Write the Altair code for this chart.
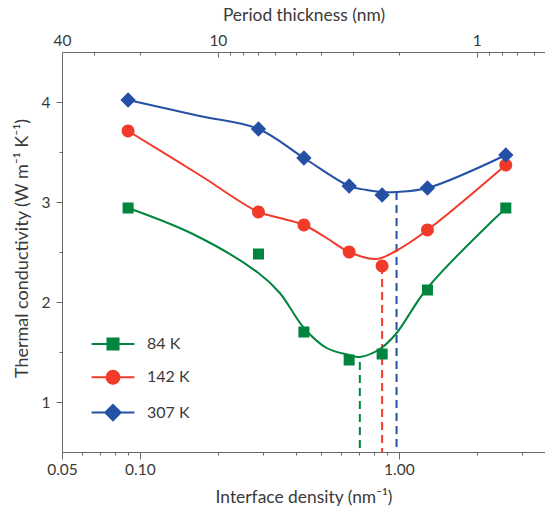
import altair as alt
import pandas as pd

# ---------------- data ----------------
series = ["84 K", "142 K", "307 K"]
colors = ["#00853E", "#F23A2B", "#2450A5"]

density = [0.09, 0.287, 0.43, 0.643, 0.862, 1.29, 2.59]
k84 = [2.94, 2.48, 1.70, 1.42, 1.48, 2.12, 2.94]
k142 = [3.71, 2.90, 2.77, 2.50, 2.36, 2.72, 3.37]
k307 = [4.02, 3.73, 3.44, 3.16, 3.07, 3.14, 3.47]

# smooth guide curves
fit84_x = [0.09, 0.16, 0.287, 0.347, 0.43, 0.526, 0.643, 0.707, 0.845, 0.974, 1.29, 2.59]
fit84_y = [2.94, 2.68, 2.29, 2.09, 1.74, 1.54, 1.47, 1.45, 1.53, 1.68, 2.14, 2.94]
fit142_x = [0.09, 0.17, 0.287, 0.347, 0.43, 0.526, 0.643, 0.82, 0.974, 1.29, 2.59]
fit142_y = [3.71, 3.27, 2.90, 2.84, 2.77, 2.64, 2.50, 2.43, 2.51, 2.72, 3.37]
fit307_x = [0.09, 0.17, 0.287, 0.43, 0.643, 0.75, 0.862, 0.974, 1.29, 2.59]
fit307_y = [4.02, 3.86, 3.73, 3.44, 3.16, 3.12, 3.10, 3.10, 3.14, 3.47]

# dashed markers of the minima
dash_x = [0.707, 0.862, 0.98]
dash_top = [1.40, 2.36, 3.10]
dash_bottom = [0.5, 0.5, 0.5]

# axis ticks
bottom_major = [0.05, 0.1, 1.0]
bottom_minor = [0.06, 0.07, 0.08, 0.09, 0.2, 0.3, 0.4, 0.5, 0.6, 0.7, 0.8, 0.9, 2.0, 3.0]
period_major = [40, 10, 1]
period_minor = [30, 20, 9, 8, 7, 6, 5, 4, 3, 2, 0.9, 0.8, 0.7, 0.6]
y_major = [1, 2, 3, 4]
y_minor = [1.5, 2.5, 3.5]

# ---------------- tables ----------------
hex_of = dict(zip(series, colors))
pts = pd.DataFrame(
    [{"series": s, "density": d, "k": v}
     for s, vals in zip(series, [k84, k142, k307])
     for d, v in zip(density, vals)]
)
fits = pd.DataFrame(
    [{"series": s, "hex": hex_of[s], "density": d, "k": v}
     for s, xs, ys in zip(series, [fit84_x, fit142_x, fit307_x], [fit84_y, fit142_y, fit307_y])
     for d, v in zip(xs, ys)]
)
dashes = pd.DataFrame({"series": series, "hex": colors, "density": dash_x,
                       "top": dash_top, "bottom": dash_bottom})

FONT = "Lato"
TXT = "#3a3a3a"
AX = "#6b6b6b"

xscale = alt.Scale(type="log", domain=[0.05, 3.67], nice=False)
yscale = alt.Scale(domain=[0.5, 4.5], nice=False, zero=False)
cscale = alt.Scale(domain=series, range=colors)

common = dict(grid=False, domainColor=AX, tickColor=AX, labelColor=TXT, titleColor=TXT,
              labelFont=FONT, titleFont=FONT, labelFontSize=15.5, titleFontSize=17.4,
              titleFontWeight="normal", labelFlush=False, labelOverlap=False)

ax_bottom_major = alt.Axis(orient="bottom", values=bottom_major, format=".2f", tickSize=7,
                           labelPadding=3, title="Interface density (nm⁻¹)",
                           titleY=45, titleBaseline="middle", titleAlign="center", **common)
ax_bottom_minor = alt.Axis(orient="bottom", values=bottom_minor, tickSize=3, labels=False,
                           domain=False, title=None, **common)
ax_top_main = alt.Axis(orient="top", values=[2 / p for p in period_major],
                       labelExpr="format(2 / datum.value, '.0f')", ticks=False,
                       labelPadding=4, title="Period thickness (nm)",
                       titleY=-37, titleBaseline="middle", titleAlign="center", **common)
ax_top_major_ticks = alt.Axis(orient="top", values=[2 / p for p in period_major[1:]],
                              tickSize=5, offset=-5, labels=False, domain=False, title=None, **common)
ax_top_minor_ticks = alt.Axis(orient="top", values=[2 / p for p in period_minor],
                              tickSize=3, offset=-3, labels=False, domain=False, title=None, **common)
ay_major = alt.Axis(orient="left", values=y_major, tickSize=6, labelPadding=6,
                    title="Thermal conductivity (W m⁻¹ K⁻¹)", titleX=-40, titleY=196,
                    titleBaseline="middle", titleAlign="center", titleAngle=270,
                    titleFontSize=18, **{k: v for k, v in common.items() if k != "titleFontSize"})
ay_minor = alt.Axis(orient="left", values=y_minor, tickSize=3, labels=False, domain=False,
                    title=None, **common)

# legend symbols: a line segment plus the marker (the line is only stroked in the legend)
shape_paths = [
    "M-3.57,0H3.57M-0.92,-0.92H0.92V0.92H-0.92Z",
    "M-3.57,0H3.57M-1.08,0A1.08,1.08,0,1,0,1.08,0A1.08,1.08,0,1,0,-1.08,0Z",
    "M-3.57,0H3.57M0,-1.28L1.28,0L0,1.28L-1.28,0Z",
]
sscale = alt.Scale(domain=series, range=shape_paths)

legend = alt.Legend(title=None, orient="none", legendX=43, legendY=284,
                    labelFont=FONT, labelFontSize=16, labelColor=TXT,
                    labelOffset=26, rowPadding=12.3, symbolSize=144, symbolStrokeWidth=2)

rules = alt.Chart(dashes).mark_rule(strokeDash=[8, 5], strokeWidth=2).encode(
    x=alt.X("density:Q", scale=xscale, axis=ax_top_main),
    y=alt.Y("top:Q", scale=yscale, axis=None),
    y2="bottom:Q",
    color=alt.Color("hex:N", scale=None),
)

dummy1 = alt.Chart(dashes).mark_point(opacity=0).encode(
    x=alt.X("density:Q", scale=xscale, axis=ax_top_major_ticks),
)
dummy2 = alt.Chart(dashes).mark_point(opacity=0).encode(
    x=alt.X("density:Q", scale=xscale, axis=ax_top_minor_ticks),
)

lines = alt.Chart(fits).mark_line(interpolate="catmull-rom", strokeWidth=2).encode(
    x=alt.X("density:Q", scale=xscale, axis=ax_bottom_major),
    y=alt.Y("k:Q", scale=yscale, axis=ay_major),
    color=alt.Color("hex:N", scale=None),
    detail="series:N",
)

points = alt.Chart(pts).mark_point(filled=True, size=144, opacity=1).encode(
    x=alt.X("density:Q", scale=xscale, axis=ax_bottom_minor),
    y=alt.Y("k:Q", scale=yscale, axis=ay_minor),
    fill=alt.Fill("series:N", scale=cscale, legend=legend),
    stroke=alt.Stroke("series:N", scale=cscale, legend=legend),
    shape=alt.Shape("series:N", scale=sscale, legend=legend),
    strokeWidth=alt.value(0),
)

chart = (
    alt.layer(rules, dummy1, dummy2, lines, points)
    .resolve_axis(x="independent", y="independent")
    .properties(width=483, height=400,
                autosize=alt.AutoSizeParams(type="none"),
                padding={"left": 62, "top": 52, "right": 0, "bottom": 61},
                background="white")
    .configure_view(strokeWidth=0)
)

chart.save("out.html", embed_options={"renderer": "svg", "actions": False})
